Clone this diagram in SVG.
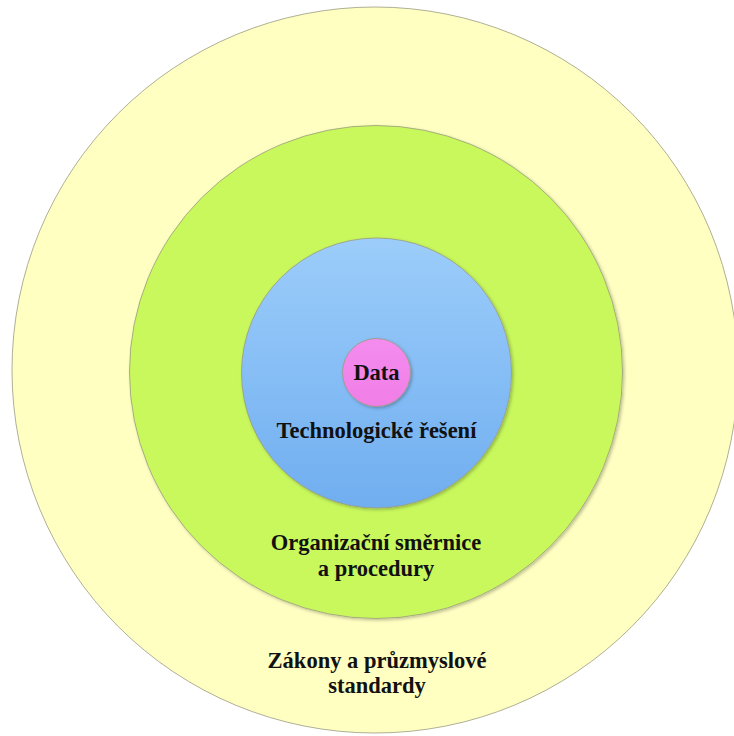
<svg xmlns="http://www.w3.org/2000/svg" width="734" height="736" viewBox="0 0 734 736">
<style>
.ring{stroke:#9a9a80;stroke-width:0.8}
.lbl{font-family:"Liberation Serif","Times New Roman",serif;font-weight:bold;font-size:22.5px;fill:#111;text-anchor:middle}
</style>
<defs>
<linearGradient id="gBlue" x1="0" y1="0" x2="0" y2="1">
<stop offset="0" stop-color="#9ccdfa"/>
<stop offset="1" stop-color="#70aef0"/>
</linearGradient>
<linearGradient id="gPink" x1="0" y1="0" x2="0" y2="1">
<stop offset="0" stop-color="#f48cee"/>
<stop offset="1" stop-color="#f07ee6"/>
</linearGradient>
<filter id="sh" x="-10%" y="-10%" width="120%" height="120%">
<feDropShadow dx="1.5" dy="1.5" stdDeviation="1.5" flood-color="#000" flood-opacity="0.25"/>
</filter>
</defs>
<rect width="734" height="736" fill="#ffffff"/>
<g id="outer">
<circle class="ring" cx="375" cy="370" r="363" fill="#ffffc2"/>
<text class="lbl" x="377" y="668">Zákony a průzmyslové</text>
<text class="lbl" x="377" y="693">standardy</text>
</g>
<g id="green">
<circle class="ring" cx="376" cy="372" r="246.5" fill="#c8f85c" filter="url(#sh)"/>
<text class="lbl" x="376" y="550">Organizační směrnice</text>
<text class="lbl" x="376" y="576">a procedury</text>
</g>
<g id="blue">
<circle class="ring" cx="376.5" cy="373" r="135" fill="url(#gBlue)" filter="url(#sh)"/>
<text class="lbl" x="376.5" y="438">Technologické řešení</text>
</g>
<g id="data">
<circle class="ring" cx="376.5" cy="372.5" r="34" fill="url(#gPink)" filter="url(#sh)"/>
<text class="lbl" x="376.5" y="380">Data</text>
</g>
<g id="connectors"/>
</svg>
